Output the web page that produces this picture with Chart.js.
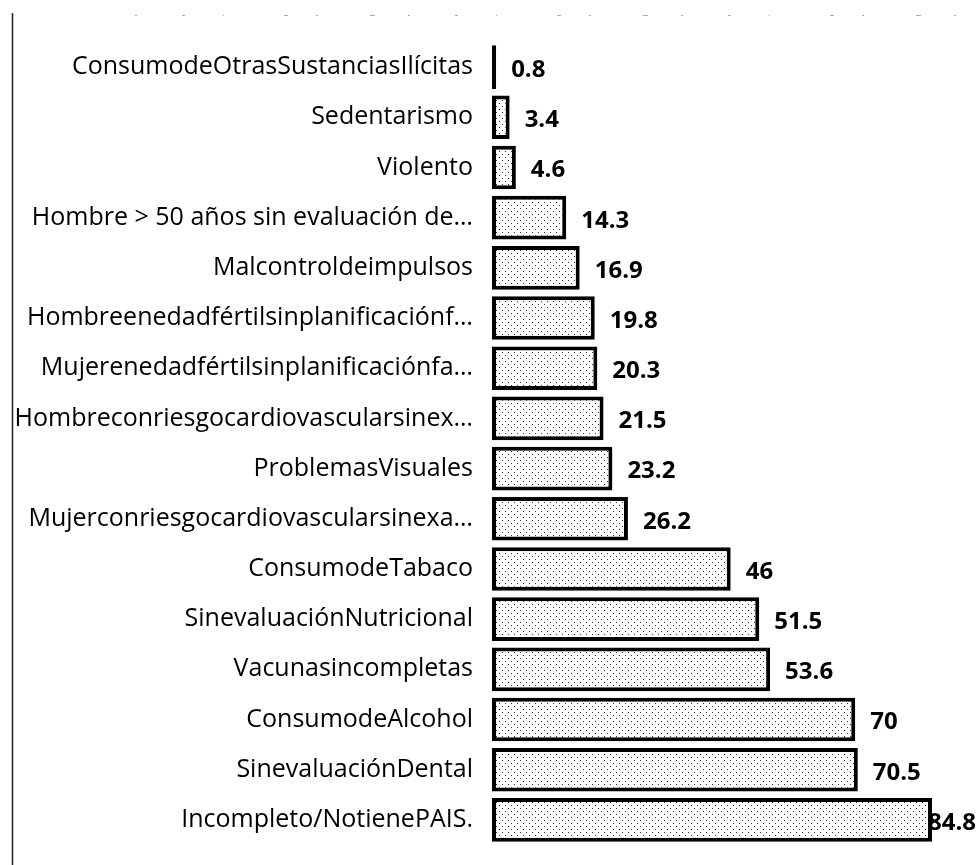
<!DOCTYPE html>
<html>
<head>
<meta charset="utf-8">
<script src="https://cdn.jsdelivr.net/npm/chart.js@4/dist/chart.umd.min.js"></script>
<style>
  html, body { margin: 0; padding: 0; background: #fff; }
  #wrap { width: 978px; height: 865px; position: relative; }
</style>
</head>
<body>
<div id="wrap"><canvas id="c" width="978" height="865"></canvas></div>
<script>
// Risk factors, listed top to bottom
const categories = [
  "ConsumodeOtrasSustanciasIlícitas",
  "Sedentarismo",
  "Violento",
  "Hombre > 50 años sin evaluación de…",
  "Malcontroldeimpulsos",
  "Hombreenedadfértilsinplanificaciónf…",
  "Mujerenedadfértilsinplanificaciónfa…",
  "Hombreconriesgocardiovascularsinex…",
  "ProblemasVisuales",
  "Mujerconriesgocardiovascularsinexa…",
  "ConsumodeTabaco",
  "SinevaluaciónNutricional",
  "Vacunasincompletas",
  "ConsumodeAlcohol",
  "SinevaluaciónDental",
  "Incompleto/NotienePAIS."
];
const values = [0.8, 3.4, 4.6, 14.3, 16.9, 19.8, 20.3, 21.5, 23.2, 26.2, 46, 51.5, 53.6, 70, 70.5, 84.8];

// Stippled fill: sparse dark dots on white
function dotPattern() {
  const p = document.createElement('canvas');
  p.width = 6; p.height = 6;
  const g = p.getContext('2d');
  g.fillStyle = '#fff';
  g.fillRect(0, 0, 6, 6);
  g.fillStyle = '#333';
  g.fillRect(1, 1, 1, 1);
  g.fillRect(4, 4, 1, 1);
  return g.createPattern(p, 'repeat');
}

const LEFT_EDGE = 492;

// Value labels sit just past each bar; they are drawn before the bars,
// so a label pushed back against the right edge slips under its bar.
const valueLabels = {
  id: 'valueLabels',
  beforeDatasetsDraw(chart) {
    const ctx = chart.ctx;
    const meta = chart.getDatasetMeta(0);
    ctx.save();
    ctx.font = 'bold 24px "Open Sans"';
    ctx.fillStyle = '#000';
    ctx.textBaseline = 'middle';
    ctx.textAlign = 'left';
    meta.data.forEach((bar, i) => {
      const txt = String(values[i]);
      const w = ctx.measureText(txt).width;
      let x = bar.x + 15;
      if (x + w > chart.width - 2) x = chart.width - 2 - w;
      ctx.fillText(txt, x, bar.y + 3);
    });
    ctx.restore();
  }
};

const frameLine = {
  id: 'frameLine',
  beforeDraw(chart) {
    const ctx = chart.ctx;
    ctx.save();
    ctx.fillStyle = '#fff';
    ctx.fillRect(0, 0, chart.width, chart.height);
    ctx.strokeStyle = '#222';
    ctx.lineWidth = 1.5;
    ctx.beginPath();
    ctx.moveTo(12.5, 13);
    ctx.lineTo(12.5, chart.height);
    ctx.stroke();
    // faint broken rule along the top
    ctx.strokeStyle = '#aaa';
    ctx.lineWidth = 1;
    ctx.setLineDash([2, 45, 3, 38, 1, 60, 4, 28, 2, 52, 5, 33]);
    ctx.beginPath();
    ctx.moveTo(135, 15.5);
    ctx.lineTo(chart.width, 15.5);
    ctx.stroke();
    ctx.restore();
  }
};

new Chart(document.getElementById('c'), {
  type: 'bar',
  data: {
    labels: categories,
    datasets: [{
      data: values,
      backgroundColor: dotPattern(),
      borderColor: '#000',
      borderWidth: 4,
      borderSkipped: false,
      barPercentage: 0.87,
      categoryPercentage: 1.0
    }]
  },
  options: {
    indexAxis: 'y',
    responsive: false,
    animation: false,
    layout: { padding: { top: 42, bottom: 20, left: 0, right: 19 } },
    plugins: { legend: { display: false }, tooltip: { enabled: false } },
    scales: {
      x: { display: false, min: 0, max: 90 },
      y: {
        afterFit(s) {
          s.width = LEFT_EDGE;
          s.paddingTop = 0;
          s.paddingBottom = 0;
        },
        border: { display: false },
        grid: { display: false, drawTicks: false },
        ticks: {
          padding: 19,
          color: '#000',
          font: { family: 'Open Sans', size: 25 }
        }
      }
    }
  },
  plugins: [frameLine, valueLabels]
});
</script>
</body>
</html>
